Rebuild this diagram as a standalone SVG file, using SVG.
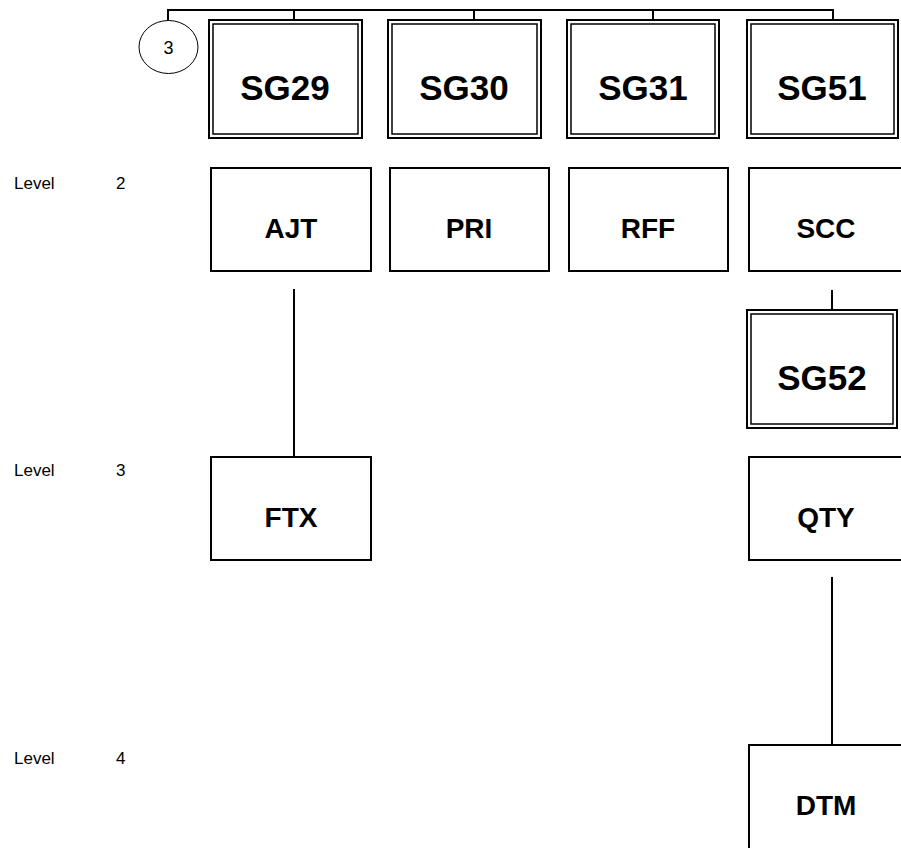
<svg xmlns="http://www.w3.org/2000/svg" width="901" height="848" viewBox="0 0 901 848">
<style>
.box{fill:#fff;stroke:#000;stroke-width:2}
.in{fill:none;stroke:#000;stroke-width:1.5}
.ln{stroke:#000;stroke-width:2;fill:none}
.big{font-family:"Liberation Sans",Arial,sans-serif;font-weight:bold;font-size:35px;text-anchor:middle}
.mid{font-family:"Liberation Sans",Arial,sans-serif;font-weight:bold;font-size:28px;text-anchor:middle}
.lv{font-family:"Liberation Sans",Arial,sans-serif;font-size:17px}
</style>
<rect width="901" height="848" fill="#fff"/>
<g id="connectors">
<path class="ln" d="M168,21 V10 H833 V19 M294,10 V19 M474,10 V19 M653,10 V19"/>
<path class="ln" d="M294,289 V457"/>
<path class="ln" d="M832,290 V310"/>
<path class="ln" d="M832,577 V745"/>
</g>
<g id="labels">
<text class="lv" x="14" y="189">Level</text><text class="lv" x="116" y="189">2</text>
<text class="lv" x="14" y="476">Level</text><text class="lv" x="116" y="476">3</text>
<text class="lv" x="14" y="764">Level</text><text class="lv" x="116" y="764">4</text>
</g>
<g id="n3">
<ellipse cx="168.5" cy="47" rx="29.5" ry="26.5" fill="#fff" stroke="#000" stroke-width="1"/>
<text x="168.5" y="54" font-family="Liberation Sans,Arial,sans-serif" font-size="18" text-anchor="middle">3</text>
</g>
<g id="SG29"><rect class="box" x="209" y="20" width="153" height="118"/><rect class="in" x="213" y="24" width="145" height="110"/><text class="big" x="285" y="100">SG29</text></g>
<g id="SG30"><rect class="box" x="388" y="20" width="153" height="118"/><rect class="in" x="392" y="24" width="145" height="110"/><text class="big" x="464" y="100">SG30</text></g>
<g id="SG31"><rect class="box" x="567" y="20" width="152" height="118"/><rect class="in" x="571" y="24" width="144" height="110"/><text class="big" x="643" y="100">SG31</text></g>
<g id="SG51"><rect class="box" x="747" y="20" width="151" height="118"/><rect class="in" x="751" y="24" width="143" height="110"/><text class="big" x="822" y="100">SG51</text></g>
<g id="AJT"><rect class="box" x="211" y="168" width="160" height="103"/><text class="mid" x="291" y="238">AJT</text></g>
<g id="PRI"><rect class="box" x="390" y="168" width="159" height="103"/><text class="mid" x="469" y="238">PRI</text></g>
<g id="RFF"><rect class="box" x="569" y="168" width="159" height="103"/><text class="mid" x="648" y="238">RFF</text></g>
<g id="SCC"><rect class="box" x="749" y="168" width="160" height="103"/><text class="mid" x="826" y="238">SCC</text></g>
<g id="SG52"><rect class="box" x="747" y="310" width="150" height="118"/><rect class="in" x="751" y="314" width="142" height="110"/><text class="big" x="822" y="390">SG52</text></g>
<g id="FTX"><rect class="box" x="211" y="457" width="160" height="103"/><text class="mid" x="291" y="527">FTX</text></g>
<g id="QTY"><rect class="box" x="749" y="457" width="160" height="103"/><text class="mid" x="826" y="527">QTY</text></g>
<g id="DTM"><rect class="box" x="749" y="745" width="160" height="120"/><text class="mid" x="826" y="815">DTM</text></g>
</svg>
